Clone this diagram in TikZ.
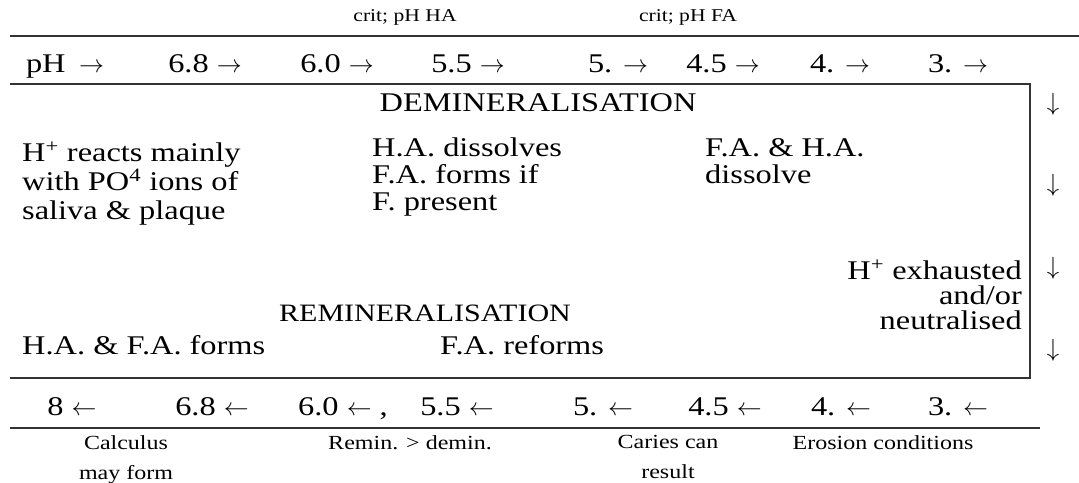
\documentclass[tikz,border=0pt]{standalone}
\usepackage{fontspec}
\setmainfont[FakeStretch=1.2]{Liberation Serif}
\usetikzlibrary{positioning}

\begin{document}
\begin{tikzpicture}[x=1pt, y=-1pt,
      rule/.style={line width=1.1pt, draw=black!80},
      phval/.style={font=\fontsize{27}{30}\selectfont, inner sep=0pt, anchor=base},
      body/.style={font=\fontsize{27}{29}\selectfont, align=left,
        inner sep=0pt, anchor=north west},
      heading/.style={font=\fontsize{27}{30}\selectfont, inner sep=0pt, anchor=base},
      crit/.style={font=\fontsize{18}{22}\selectfont, inner sep=0pt, anchor=base},
      note/.style={font=\fontsize{20}{30}\selectfont, align=center,
        inner sep=0pt, anchor=north},
      turn/.style={font=\fontsize{25}{28}\selectfont, inner sep=0pt}
    ]
    \useasboundingbox (0,0) rectangle (1079,482);

    % rules and box
    \coordinate (topL) at (10,36);
    \coordinate (topR) at (1079,36);
    \coordinate (boxNW) at (10,84);
    \coordinate (boxNE) at (1030,84);
    \coordinate (boxSE) at (1030,378);
    \coordinate (boxSW) at (10,378);
    \coordinate (lowL) at (10,428);
    \coordinate (lowR) at (1040,428);
    \draw[rule] (topL) -- (topR);
    \draw[rule] (boxNW) -- (boxNE) -- (boxSE) -- (boxSW);
    \draw[rule] (lowL) -- (lowR);

    % critical pH labels
    \node[crit] (critHA) at (405,21) {crit; pH HA};
    \node[crit] (critFA) at (688,21) {crit; pH FA};

    % falling pH
    \node[phval] (phStart) at (65,72) {pH\hspace{0.5em}$\rightarrow$};
    \node[phval] (phA) at (205,72) {6.8 $\rightarrow$};
    \node[phval] (phB) at (337,72) {6.0 $\rightarrow$};
    \node[phval] (phC) at (468,72) {5.5 $\rightarrow$};
    \node[phval] (phD) at (618,72) {5. $\rightarrow$};
    \node[phval] (phE) at (723,72) {4.5 $\rightarrow$};
    \node[phval] (phF) at (840,72) {4. $\rightarrow$};
    \node[phval] (phG) at (958,72) {3. $\rightarrow$};

    % demineralisation
    \node[heading] (demin) at (538,111) {DEMINERALISATION};
    \node[body] (reacts) at (22,142)
      {H\textsuperscript{+} reacts mainly\\with PO\textsuperscript{4} ions of\\saliva \& plaque};
    \node[body, font=\fontsize{27}{27}\selectfont] (haDissolves) at (372,138)
      {H.A. dissolves\\F.A. forms if\\F. present};
    \node[body, font=\fontsize{27}{27}\selectfont] (bothDissolve) at (705,138)
      {F.A. \& H.A.\\dissolve};
    \node[body, align=right, anchor=north east,
      font=\fontsize{27}{25}\selectfont] (exhausted) at (1022,260)
      {H\textsuperscript{+} exhausted\\and/or\\neutralised};

    % remineralisation
    \node[heading, font=\fontsize{25}{30}\selectfont] (remin) at (425,321) {REMINERALISATION};
    \node[phval, anchor=base west] (bothForm) at (22,354) {H.A. \& F.A. forms};
    \node[phval, anchor=base west] (faReforms) at (440,354) {F.A. reforms};

    % turning of the curve
    \node[turn] (turnA) at (1053,104) {$\downarrow$};
    \node[turn] (turnB) at (1053,185) {$\downarrow$};
    \node[turn] (turnC) at (1053,268) {$\downarrow$};
    \node[turn] (turnD) at (1053,350) {$\downarrow$};

    % rising pH
    \node[phval] (riseA) at (72,415) {8 $\leftarrow$};
    \node[phval] (riseB) at (212,415) {6.8 $\leftarrow$};
    \node[phval] (riseC) at (343,415) {6.0 $\leftarrow$ ,};
    \node[phval] (riseD) at (457,415) {5.5 $\leftarrow$};
    \node[phval] (riseE) at (603,415) {5. $\leftarrow$};
    \node[phval] (riseF) at (725,415) {4.5 $\leftarrow$};
    \node[phval] (riseG) at (841,415) {4. $\leftarrow$};
    \node[phval] (riseH) at (958,415) {3. $\leftarrow$};

    % consequences
    \node[note] (calculus) at (126,435) {Calculus\\may form};
    \node[note] (reminDemin) at (410,435) {Remin. > demin.};
    \node[note] (caries) at (668,435) {Caries can\\result};
    \node[note] (erosion) at (883,435) {Erosion conditions};
  \end{tikzpicture}
\end{document}
